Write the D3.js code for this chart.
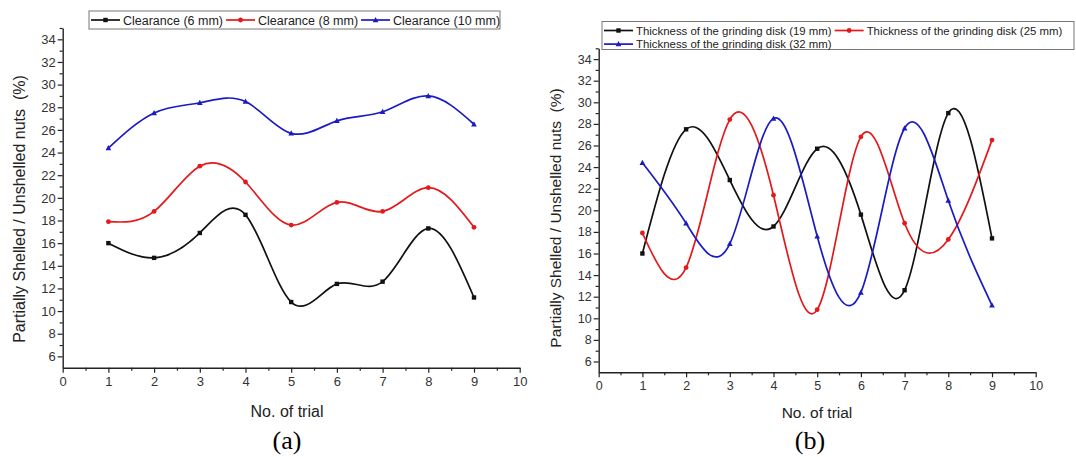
<!DOCTYPE html>
<html>
<head>
<meta charset="utf-8">
<script src="https://cdn.jsdelivr.net/npm/d3@7"></script>
<style>
  html, body { margin: 0; padding: 0; background: #fff; }
  svg { display: block; }
</style>
</head>
<body>
<svg id="chart" width="1076" height="457"></svg>
<script>
// Trial numbers and measured share of partially shelled / unshelled nuts (%)
const trials = [1, 2, 3, 4, 5, 6, 7, 8, 9];

// (a) effect of clearance
const clearance6  = [16.0, 14.7, 16.9, 18.5, 10.8, 12.4, 12.6, 17.3, 11.2];
const clearance8  = [17.9, 18.8, 22.8, 21.4, 17.6, 19.6, 18.8, 20.9, 17.4];
const clearance10 = [24.4, 27.5, 28.4, 28.5, 25.7, 26.8, 27.6, 29.0, 26.5];

// (b) effect of grinding disk thickness
const disk19 = [16.0, 27.5, 22.8, 18.5, 25.7, 19.6, 12.6, 29.0, 17.4];
const disk25 = [17.9, 14.7, 28.4, 21.4, 10.8, 26.8, 18.8, 17.3, 26.5];
const disk32 = [24.4, 18.8, 16.9, 28.5, 17.6, 12.4, 27.6, 20.9, 11.2];

const labelsA = ["Clearance (6 mm)", "Clearance (8 mm)", "Clearance (10 mm)"];
const labelsB = ["Thickness of the grinding disk (19 mm)",
                 "Thickness of the grinding disk (25 mm)",
                 "Thickness of the grinding disk (32 mm)"];

const xTickValues = [0, 1, 2, 3, 4, 5, 6, 7, 8, 9, 10];
const yTickValues = [6, 8, 10, 12, 14, 16, 18, 20, 22, 24, 26, 28, 30, 32, 34];
const xDomain = [0, 10];
const yDomain = [5, 35];

const yTitle = "Partially Shelled / Unshelled nuts\u00a0\u00a0(%)";
const xTitle = "No. of trial";

const seriesColors = ["#111111", "#e3191c", "#1b1bc4"];
const markerKinds = ["square", "circle", "triangle"];

const svg = d3.select("#chart");
const FONT = "'Liberation Sans', Arial, Helvetica, sans-serif";

function drawMarker(g, kind, x, y, color) {
  if (kind === "square") {
    g.append("rect").attr("x", x - 2.2).attr("y", y - 2.2)
      .attr("width", 4.4).attr("height", 4.4).attr("fill", color);
  } else if (kind === "circle") {
    g.append("circle").attr("cx", x).attr("cy", y).attr("r", 2.4).attr("fill", color);
  } else {
    const s = 3;
    g.append("path")
      .attr("d", `M${x},${y - s} L${x + s * 0.95},${y + s * 0.75} L${x - s * 0.95},${y + s * 0.75} Z`)
      .attr("fill", color);
  }
}

function drawPanel(cfg) {
  const g = svg.append("g");
  const x = d3.scaleLinear().domain(xDomain).range([cfg.x0, cfg.x1]);
  const y = d3.scaleLinear().domain(yDomain).range([cfg.y0, cfg.y1]);

  // series curves (spline through the measured points) and markers
  const line = d3.line()
    .x((d, i) => x(trials[i]))
    .y(d => y(d))
    .curve(d3.curveNatural);

  cfg.series.forEach((vals, k) => {
    g.append("path")
      .attr("d", line(vals))
      .attr("fill", "none")
      .attr("stroke", seriesColors[k])
      .attr("stroke-width", 1.7);
    vals.forEach((v, i) => drawMarker(g, markerKinds[k], x(trials[i]), y(v), seriesColors[k]));
  });

  // x axis: major ticks every trial, minor ticks at halves
  const xMinor = d3.range(0.5, 10, 1);
  const xAxis = g.append("g").attr("transform", `translate(0,${cfg.y0})`);
  xAxis.call(d3.axisBottom(x).tickValues(xMinor).tickSize(3).tickFormat(""))
    .call(a => a.select(".domain").remove());
  const xMaj = g.append("g").attr("transform", `translate(0,${cfg.y0})`);
  xMaj.call(d3.axisBottom(x).tickValues(xTickValues).tickSize(5).tickPadding(4)
      .tickFormat(d3.format("d")).tickSizeOuter(0));

  // y axis: labelled even values, minor odd values
  const yMinor = d3.range(7, 36, 2);
  const yAxis = g.append("g").attr("transform", `translate(${cfg.x0},0)`);
  yAxis.call(d3.axisLeft(y).tickValues(yMinor).tickSize(3).tickFormat(""))
    .call(a => a.select(".domain").remove());
  const yMaj = g.append("g").attr("transform", `translate(${cfg.x0},0)`);
  yMaj.call(d3.axisLeft(y).tickValues(yTickValues).tickSize(5).tickPadding(2)
      .tickFormat(d3.format("d")).tickSizeOuter(0));

  g.selectAll(".domain").attr("stroke", "#222").attr("stroke-width", 1.4);
  g.selectAll(".tick line").attr("stroke", "#222").attr("stroke-width", 1.2);
  g.selectAll(".tick text").attr("fill", "#333")
    .style("font-family", FONT).style("font-size", cfg.tickFont + "px");

  // axis titles
  g.append("text")
    .attr("x", cfg.xTitleX).attr("y", cfg.xTitleY)
    .attr("text-anchor", "middle")
    .style("font-family", FONT).style("font-size", cfg.titleFont + "px")
    .attr("fill", "#222")
    .text(xTitle);
  g.append("text")
    .attr("transform", `translate(${cfg.yTitleX},${cfg.yTitleY}) rotate(-90)`)
    .attr("text-anchor", "middle")
    .style("font-family", FONT).style("font-size", cfg.titleFont + "px")
    .attr("fill", "#222")
    .text(yTitle);

  // panel caption
  g.append("text")
    .attr("x", cfg.capX).attr("y", cfg.capY)
    .attr("text-anchor", "middle")
    .style("font-family", "'Liberation Serif', 'Times New Roman', serif")
    .style("font-size", "26px")
    .attr("fill", "#000")
    .text(cfg.caption);

  // legend box: entries laid out left to right, perRow entries per row
  const lg = g.append("g");
  const box = cfg.legend;
  lg.append("rect")
    .attr("x", box.x).attr("y", box.y).attr("width", box.w).attr("height", box.h)
    .attr("fill", "#fff").attr("stroke", "#777").attr("stroke-width", 1);
  let cx = box.x + 2;
  cfg.labels.forEach((lab, k) => {
    const row = Math.floor(k / box.perRow);
    if (k % box.perRow === 0) cx = box.x + 2;
    const cy = box.y + box.rowTop + row * box.rowH;
    lg.append("line")
      .attr("x1", cx).attr("x2", cx + box.line).attr("y1", cy).attr("y2", cy)
      .attr("stroke", seriesColors[k]).attr("stroke-width", 1.7);
    drawMarker(lg, markerKinds[k], cx + box.line / 2, cy, seriesColors[k]);
    const t = lg.append("text")
      .attr("x", cx + box.line + 3).attr("y", cy + box.font * 0.36)
      .style("font-family", FONT).style("font-size", box.font + "px")
      .attr("fill", "#222").text(lab);
    cx += box.line + 3 + t.node().getComputedTextLength() + 3;
  });
}

drawPanel({
  x0: 62.7, x1: 519.7, y0: 367.7, y1: 28,
  series: [clearance6, clearance8, clearance10],
  labels: labelsA,
  tickFont: 13, titleFont: 16,
  xTitleX: 287, xTitleY: 417,
  yTitleX: 25, yTitleY: 209,
  caption: "(a)", capX: 287, capY: 449,
  legend: { x: 89, y: 11, w: 411, h: 18, font: 12.5, line: 29, rowTop: 9, rowH: 13.5, perRow: 3 }
});

drawPanel({
  x0: 598.7, x1: 1035.7, y0: 372.3, y1: 48.3,
  series: [disk19, disk25, disk32],
  labels: labelsB,
  tickFont: 12.5, titleFont: 15.5,
  xTitleX: 817, xTitleY: 418,
  yTitleX: 561, yTitleY: 218,
  caption: "(b)", capX: 810, capY: 449,
  legend: { x: 602, y: 21.5, w: 472, h: 28, font: 11.4, line: 29, rowTop: 9, rowH: 13.6, perRow: 2 }
});
</script>
</body>
</html>
